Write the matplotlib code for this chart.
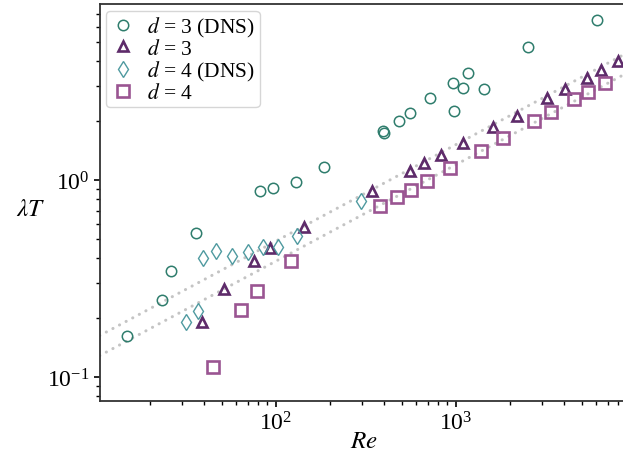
import matplotlib
matplotlib.use("Agg")
import matplotlib.pyplot as plt
import numpy as np

plt.rcParams['font.family'] = ['Liberation Serif', 'DejaVu Serif']
plt.rcParams['mathtext.fontset'] = 'stix'

# d = 3 (DNS)
re_d3_dns = [15.0, 23.4, 26.1, 35.9, 81.8, 96.6, 129.7, 185.3, 393, 398, 482, 557,
             720, 975, 970, 1094, 1170, 1442, 2512, 6120]
lt_d3_dns = [0.162, 0.246, 0.347, 0.536, 0.880, 0.911, 0.977, 1.164, 1.78, 1.74, 1.99, 2.18,
             2.60, 2.25, 3.11, 2.92, 3.49, 2.90, 4.72, 6.51]

# d = 3 (model)
re_d3 = [38.8, 51.6, 75.5, 92.9, 144.1, 341.5, 557, 669, 828, 1094, 1618, 2183,
         3228, 4033, 5343, 6415, 7973]
lt_d3 = [0.191, 0.280, 0.389, 0.450, 0.575, 0.882, 1.107, 1.216, 1.344, 1.536, 1.865, 2.12,
         2.60, 2.90, 3.29, 3.62, 4.03]

# d = 4 (DNS)
re_d4_dns = [31.6, 36.9, 39.6, 46.6, 57.2, 69.9, 85.0, 103, 131.8, 298]
lt_d4_dns = [0.1895, 0.217, 0.400, 0.438, 0.413, 0.430, 0.455, 0.455, 0.518, 0.785]

# d = 4 (model)
re_d4 = [44.7, 64.2, 79.0, 122.1, 379.6, 472, 562, 695, 929, 1382, 1824, 2734,
         3397, 4524, 5433, 6751]
lt_d4 = [0.1128, 0.2196, 0.274, 0.388, 0.735, 0.817, 0.893, 0.992, 1.147, 1.408, 1.628, 1.986,
         2.222, 2.577, 2.807, 3.107]

# guide lines  lambda T = c * Re^p
fit_exp = 0.49
fit_c = [0.0512, 0.0405]

xlim = (10.52, 9060)
ylim = (0.0755, 7.82)

fig = plt.figure(figsize=(6.23, 4.64), dpi=100)
ax = fig.add_axes([0.160, 0.1336, 1.008 - 0.160, 0.989 - 0.1336])

re_line = np.logspace(np.log10(xlim[0]), np.log10(xlim[1]), 200)
for c in fit_c:
    ax.plot(re_line, c * re_line**fit_exp, ls=(0, (0.05, 2.4)), color='#c4c4c4',
            lw=2.2, dash_capstyle='round', solid_capstyle='round', zorder=1)

ax.plot(re_d3_dns, lt_d3_dns, 'o', ls='none', mfc='none', mec='#2f7d6d', ms=7.5, mew=1.1,
        label=r'$d$ = 3 (DNS)')
ax.plot(re_d3, lt_d3, '^', ls='none', mfc='none', mec='#5e2b6a', ms=7.5, mew=1.9,
        label=r'$d$ = 3')
ax.plot(re_d4_dns, lt_d4_dns, 'd', ls='none', mfc='none', mec='#4f9aa0', ms=8.5, mew=1.0,
        label=r'$d$ = 4 (DNS)')
ax.plot(re_d4, lt_d4, 's', ls='none', mfc='none', mec='#9a5592', ms=8, mew=1.9,
        label=r'$d$ = 4')

ax.set_xscale('log')
ax.set_yscale('log')
ax.set_xlim(*xlim)
ax.set_ylim(*ylim)

for side in ['left', 'bottom', 'top', 'right']:
    ax.spines[side].set_color('#333333')
    ax.spines[side].set_linewidth(1.3)

ax.tick_params(which='both', direction='out', top=False, right=False, labelsize=17,
               colors='black')
ax.tick_params(which='major', length=4, width=1.2)
ax.tick_params(which='minor', length=3, width=1.0)

ax.set_xlabel(r'$Re$', fontsize=18, labelpad=-3)
ax.set_ylabel(r'$\lambda T$', fontsize=18, rotation=0)
ax.yaxis.set_label_coords(-0.13, 0.455)

leg = ax.legend(loc='upper left', fontsize=15.5, frameon=True, fancybox=True,
                handletextpad=0.5, borderpad=0.2, labelspacing=0.0,
                handlelength=1.2, borderaxespad=0.3)
leg.get_frame().set_edgecolor('#cccccc')

fig.savefig('out.png', dpi=100)
